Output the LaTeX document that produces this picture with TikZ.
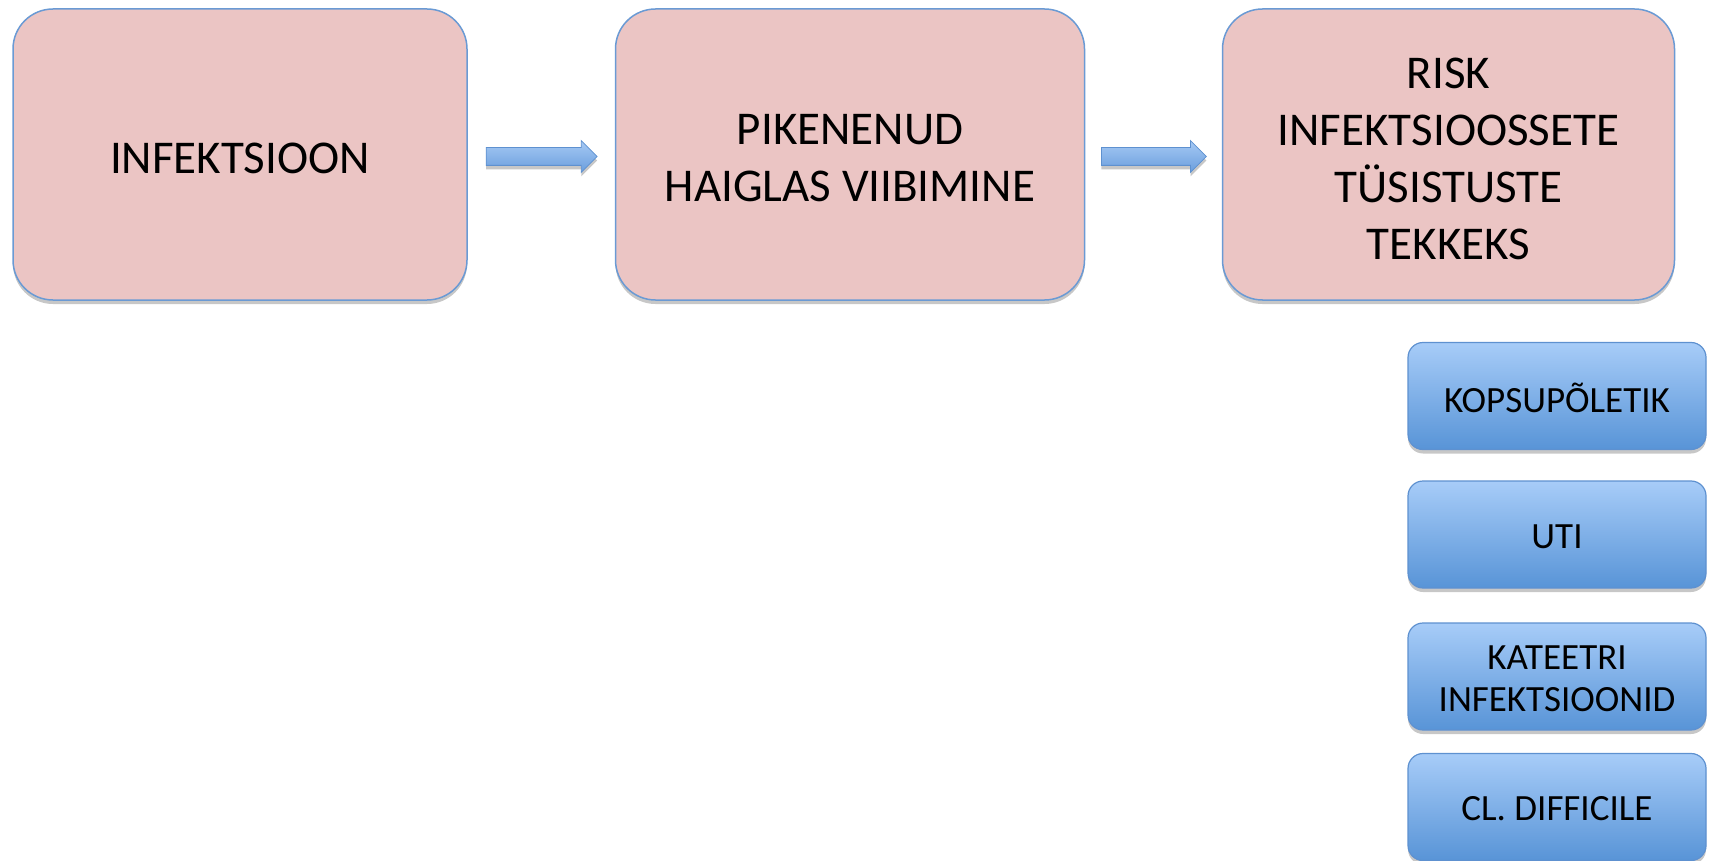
\documentclass[tikz,border=0pt]{standalone}
\usepackage{fontspec}
\setmainfont{Carlito}
\usetikzlibrary{shapes.arrows,shadows}
\definecolor{pinkfill}{HTML}{EBC5C4}
\definecolor{pinkline}{HTML}{6A9AD4}
\definecolor{bluetop}{HTML}{A7CCF8}
\definecolor{bluebot}{HTML}{5894D7}
\definecolor{blueline}{HTML}{5E91D0}
\definecolor{arrtop}{HTML}{A6C9F4}
\definecolor{arrbot}{HTML}{6A9EDD}
\begin{document}
\begin{tikzpicture}[x=1pt,y=-1pt,
  softshadow/.style={drop shadow={shadow xshift=0pt,shadow yshift=-4pt,fill=black,opacity=0.22}},
  pinkbox/.style={draw=pinkline,line width=1.5pt,fill=pinkfill,rounded corners=40pt,
    inner sep=0pt,softshadow},
  bluebox/.style={draw=blueline,line width=1.2pt,top color=bluetop,bottom color=bluebot,
    rounded corners=15pt,inner sep=0pt,minimum width=298pt,minimum height=107pt,softshadow},
  bigtext/.style={inner sep=0pt,align=center,font=\fontsize{47}{57}\selectfont},
  smalltext/.style={inner sep=0pt,align=center,font=\fontsize{37}{42}\selectfont},
  blockarrow/.style={single arrow,draw=blueline,line width=0.8pt,top color=arrtop,bottom color=arrbot,
    inner xsep=0pt,inner ysep=8.5pt,single arrow head extend=7pt,minimum width=31pt,softshadow,anchor=tail}
]
\useasboundingbox (0,0) rectangle (1712,861);
% pink boxes
\node[pinkbox,minimum width=454pt,minimum height=291pt] (b1) at (240,154.5) {};
\node[pinkbox,minimum width=469pt,minimum height=291pt] (b2) at (850,154.5) {};
\node[pinkbox,minimum width=452pt,minimum height=291pt] (b3) at (1448.5,154.5) {};
\node[bigtext,yshift=-4pt] (t1) at (b1.center) {INFEKTSIOON};
\node[bigtext,yshift=-4pt] (t2) at (b2.center) {PIKENENUD\\HAIGLAS VIIBIMINE};
\node[bigtext,yshift=-4pt] (t3) at (b3.center) {RISK\\INFEKTSIOOSSETE\\TÜSISTUSTE\\TEKKEKS};
% block arrows
\path (b1.east) -- (b2.west) coordinate[midway] (m1);
\path (b2.east) -- (b3.west) coordinate[midway] (m2);
\node[blockarrow,minimum height=111pt] (a1) at ([xshift=-55.5pt]m1|-0,156.5) {};
\node[blockarrow,minimum height=105pt] (a2) at ([xshift=-52.5pt]m2|-0,156.5) {};
% blue boxes
\node[bluebox] (c1) at (1557,396) {};
\node[bluebox] (c2) at (1557,534.5) {};
\node[bluebox] (c3) at (1557,676.5) {};
\node[bluebox] (c4) at (1557,807) {};
\node[smalltext,yshift=-2pt] at (c1.center) {KOPSUPÕLETIK};
\node[smalltext,yshift=-2pt] at (c2.center) {UTI};
\node[smalltext,yshift=-2pt] at (c3.center) {KATEETRI\\INFEKTSIOONID};
\node[smalltext,yshift=-2pt] at (c4.center) {CL. DIFFICILE};
\end{tikzpicture}
\end{document}
